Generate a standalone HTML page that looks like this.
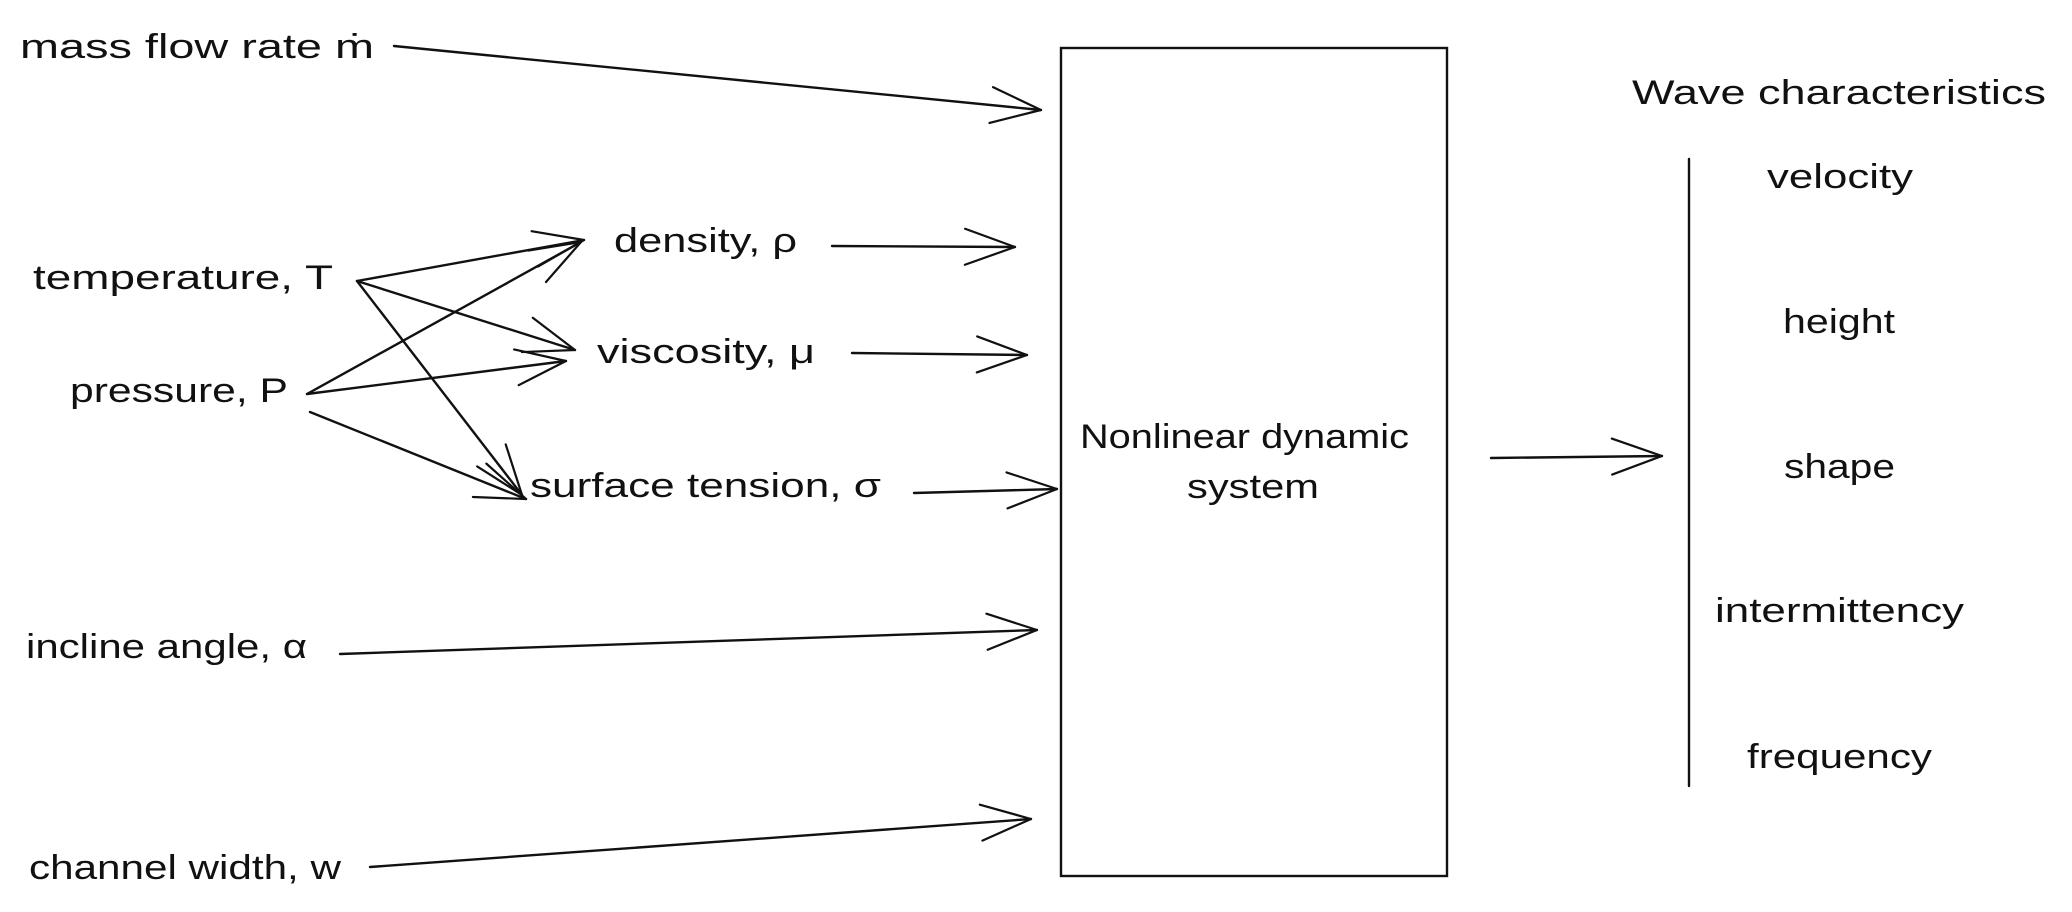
<!DOCTYPE html>
<html><head><meta charset="utf-8"><style>
html,body{margin:0;padding:0;background:#fff;}
svg{display:block;}
text{font-family:"Liberation Sans","DejaVu Sans",sans-serif;font-size:34px;fill:#111;dominant-baseline:middle;}
</style></head><body>
<svg width="2072" height="912" viewBox="0 0 2072 912" xmlns="http://www.w3.org/2000/svg">
<defs>
<marker id="a" markerUnits="userSpaceOnUse" markerWidth="60" markerHeight="60" refX="56" refY="30" orient="auto">
<path d="M6,12 L56,30 L6,48" fill="none" stroke="#111" stroke-width="2.2" stroke-linecap="round" stroke-linejoin="round"/>
</marker>
</defs>
<g stroke="#111" stroke-width="2.4" fill="none" stroke-linecap="round">
<rect x="1061" y="48" width="386" height="828"/>
<line x1="1689" y1="159" x2="1689" y2="786"/>
<g marker-end="url(#a)">
<line x1="394" y1="46" x2="1041" y2="110"/>
<line x1="357" y1="281" x2="584" y2="240"/>
<line x1="357" y1="281" x2="575" y2="350"/>
<line x1="357" y1="281" x2="522" y2="495"/>
<line x1="307" y1="394" x2="581" y2="242"/>
<line x1="307" y1="394" x2="566" y2="361"/>
<line x1="310" y1="412" x2="526" y2="499"/>
<line x1="832" y1="246" x2="1015" y2="247"/>
<line x1="852" y1="353" x2="1027" y2="355"/>
<line x1="914" y1="493" x2="1057" y2="489"/>
<line x1="340" y1="654" x2="1037" y2="630"/>
<line x1="370" y1="867" x2="1031" y2="819"/>
<line x1="1491" y1="458" x2="1662" y2="456"/>
</g>
</g>
<g>
<text x="20" y="49" textLength="354" lengthAdjust="spacingAndGlyphs">mass flow rate ṁ</text>
<text x="33" y="280" textLength="300" lengthAdjust="spacingAndGlyphs">temperature, T</text>
<text x="70" y="393" textLength="218" lengthAdjust="spacingAndGlyphs">pressure, P</text>
<text x="614" y="243" textLength="183" lengthAdjust="spacingAndGlyphs">density, ρ</text>
<text x="597" y="354" textLength="218" lengthAdjust="spacingAndGlyphs">viscosity, μ</text>
<text x="530" y="488" textLength="351" lengthAdjust="spacingAndGlyphs">surface tension, σ</text>
<text x="26" y="649" textLength="281" lengthAdjust="spacingAndGlyphs">incline angle, α</text>
<text x="29" y="870" textLength="312" lengthAdjust="spacingAndGlyphs">channel width, w</text>
<text x="1080" y="439" textLength="329" lengthAdjust="spacingAndGlyphs">Nonlinear dynamic</text>
<text x="1187" y="489" textLength="132" lengthAdjust="spacingAndGlyphs">system</text>
<text x="1632" y="95" textLength="414" lengthAdjust="spacingAndGlyphs">Wave characteristics</text>
<text x="1767" y="179" textLength="146" lengthAdjust="spacingAndGlyphs">velocity</text>
<text x="1783" y="324" textLength="112" lengthAdjust="spacingAndGlyphs">height</text>
<text x="1784" y="469" textLength="111" lengthAdjust="spacingAndGlyphs">shape</text>
<text x="1715" y="613" textLength="249" lengthAdjust="spacingAndGlyphs">intermittency</text>
<text x="1747" y="759" textLength="185" lengthAdjust="spacingAndGlyphs">frequency</text>
</g>
</svg>
</body></html>
